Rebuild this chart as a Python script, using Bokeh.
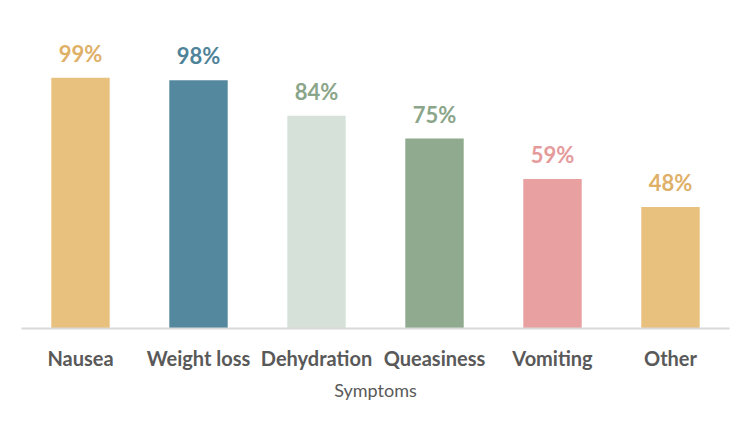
from bokeh.plotting import figure
from bokeh.models import ColumnDataSource, Range1d, LabelSet
from bokeh.core.properties import value
from bokeh.embed import file_html
from bokeh.resources import INLINE

categories = ["Nausea", "Weight loss", "Dehydration", "Queasiness", "Vomiting", "Other"]
values = [99, 98, 84, 75, 59, 48]
labels = ["99%", "98%", "84%", "75%", "59%", "48%"]
bar_colors = ["#E8C17F", "#54889E", "#D6E1DA", "#8FAA8E", "#E8A0A1", "#E8C17F"]
label_colors = ["#DFB068", "#4F8399", "#8AA589", "#8AA589", "#E59A9B", "#DFB068"]

src = ColumnDataSource(dict(cat=categories, val=values, lab=labels,
                            bc=bar_colors, lc=label_colors))

p = figure(x_range=categories, y_range=Range1d(0, 120), width=734, height=412,
           output_backend="svg", toolbar_location=None,
           min_border_left=21, min_border_right=5, min_border_top=24, min_border_bottom=84)

p.vbar(x="cat", top="val", width=0.495, fill_color="bc", line_color=None, source=src)

ls = LabelSet(x="cat", y="val", text="lab", source=src, text_color="lc",
              text_font=value("Lato"), text_font_style="bold", text_font_size="22px",
              text_align="center", text_baseline="alphabetic", y_offset=16)
p.add_layout(ls)

p.yaxis.visible = False
p.xgrid.visible = False
p.ygrid.visible = False
p.outline_line_color = None
p.background_fill_color = "white"
p.border_fill_color = "white"

ax = p.xaxis[0]
ax.axis_line_color = "#D9D9D9"
ax.axis_line_width = 2
ax.major_tick_line_color = None
ax.minor_tick_line_color = None
ax.major_label_text_font = "Lato"
ax.major_label_text_font_style = "bold"
ax.major_label_text_font_size = "20px"
ax.major_label_text_color = "#595959"
ax.major_label_standoff = 11
ax.axis_label = "Symptoms"
ax.axis_label_text_font = "Lato"
ax.axis_label_text_font_style = "normal"
ax.axis_label_text_font_size = "18px"
ax.axis_label_text_color = "#595959"
ax.axis_label_standoff = 6

open("out.html", "w").write(file_html(p, INLINE))
